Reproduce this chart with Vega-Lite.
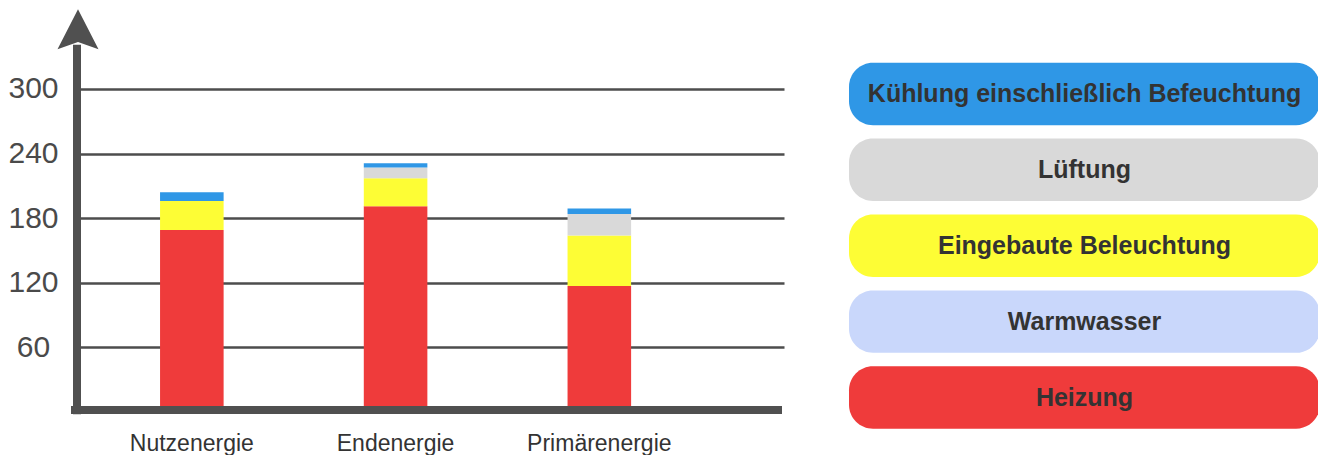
{
  "$schema": "https://vega.github.io/schema/vega-lite/v6.json",
  "padding": {"left": 7, "top": 9, "right": 0, "bottom": 0},
  "background": "white",
  "config": {"view": {"stroke": null}, "font": "Liberation Sans"},
  "datasets": {
    "werte": [
      {"Kategorie": "Nutzenergie", "Anteil": "Heizung", "Nr": 1, "Wert": 169},
      {"Kategorie": "Nutzenergie", "Anteil": "Warmwasser", "Nr": 2, "Wert": 0},
      {"Kategorie": "Nutzenergie", "Anteil": "Eingebaute Beleuchtung", "Nr": 3, "Wert": 27},
      {"Kategorie": "Nutzenergie", "Anteil": "Lüftung", "Nr": 4, "Wert": 0},
      {"Kategorie": "Nutzenergie", "Anteil": "Kühlung einschließlich Befeuchtung", "Nr": 5, "Wert": 8},
      {"Kategorie": "Endenergie", "Anteil": "Heizung", "Nr": 1, "Wert": 191},
      {"Kategorie": "Endenergie", "Anteil": "Warmwasser", "Nr": 2, "Wert": 0},
      {"Kategorie": "Endenergie", "Anteil": "Eingebaute Beleuchtung", "Nr": 3, "Wert": 26},
      {"Kategorie": "Endenergie", "Anteil": "Lüftung", "Nr": 4, "Wert": 10},
      {"Kategorie": "Endenergie", "Anteil": "Kühlung einschließlich Befeuchtung", "Nr": 5, "Wert": 4},
      {"Kategorie": "Primärenergie", "Anteil": "Heizung", "Nr": 1, "Wert": 117},
      {"Kategorie": "Primärenergie", "Anteil": "Warmwasser", "Nr": 2, "Wert": 0},
      {"Kategorie": "Primärenergie", "Anteil": "Eingebaute Beleuchtung", "Nr": 3, "Wert": 47},
      {"Kategorie": "Primärenergie", "Anteil": "Lüftung", "Nr": 4, "Wert": 20},
      {"Kategorie": "Primärenergie", "Anteil": "Kühlung einschließlich Befeuchtung", "Nr": 5, "Wert": 5}
    ],
    "legende": [
      {"Anteil": "Kühlung einschließlich Befeuchtung", "Nr": 5},
      {"Anteil": "Lüftung", "Nr": 4},
      {"Anteil": "Eingebaute Beleuchtung", "Nr": 3},
      {"Anteil": "Warmwasser", "Nr": 2},
      {"Anteil": "Heizung", "Nr": 1}
    ],
    "deko": [{}]
  },
  "hconcat": [
    {
      "width": 707,
      "height": 403,
      "resolve": {"scale": {"x": "independent"}},
      "layer": [
        {
          "data": {"name": "werte"},
          "mark": {"type": "bar"},
          "encoding": {
            "x": {
              "field": "Kategorie", "type": "nominal",
              "sort": ["Nutzenergie", "Endenergie", "Primärenergie"],
              "scale": {"paddingInner": 0.688, "paddingOuter": 0.579, "align": 0.352},
              "axis": {
                "title": null, "domain": false, "ticks": false, "tickSize": 0,
                "labelAngle": 0, "labelFontSize": 23, "labelColor": "#333333",
                "labelBaseline": "alphabetic", "labelPadding": 38,
                "labelFont": "Liberation Sans"
              }
            },
            "y": {
              "field": "Wert", "type": "quantitative", "stack": "zero",
              "scale": {"domain": [0, 374.3], "nice": false, "zero": true},
              "axis": {
                "title": null, "values": [60, 120, 180, 240, 300],
                "grid": true, "gridColor": "#4d4d4d", "gridWidth": 2.5,
                "domain": false, "ticks": false, "tickSize": 0,
                "labelAlign": "center", "labelBaseline": "middle",
                "labelPadding": 44, "labelFontSize": 30, "labelColor": "#4a4a4a",
                "labelFont": "Liberation Sans"
              }
            },
            "color": {
              "field": "Anteil", "type": "nominal", "legend": null,
              "scale": {
                "domain": ["Heizung", "Warmwasser", "Eingebaute Beleuchtung", "Lüftung", "Kühlung einschließlich Befeuchtung"],
                "range": ["#ef3b3b", "#c9d7fb", "#fdfd35", "#d9d9d9", "#2f97e6"]
              }
            },
            "order": {"field": "Nr", "type": "quantitative", "sort": "ascending"}
          }
        },
        {
          "data": {"name": "deko"},
          "mark": {"type": "rule", "strokeWidth": 8, "color": "#505050"},
          "encoding": {
            "x": {"datum": 0, "type": "quantitative", "scale": {"domain": [0, 707], "nice": false, "zero": false}, "axis": null},
            "y": {"datum": -2, "type": "quantitative"},
            "y2": {"datum": 341}
          }
        },
        {
          "data": {"name": "deko"},
          "mark": {"type": "rule", "strokeWidth": 8, "color": "#505050"},
          "encoding": {
            "x": {"datum": -6, "type": "quantitative", "scale": {"domain": [0, 707], "nice": false, "zero": false}, "axis": null},
            "x2": {"datum": 705},
            "y": {"datum": 1.86, "type": "quantitative"}
          }
        },
        {
          "data": {"name": "deko"},
          "mark": {"type": "point", "filled": true, "shape": "M0,-1L1,0.95L0,0.6L-1,0.95Z", "size": 1681, "color": "#505050", "opacity": 1, "strokeWidth": 0},
          "encoding": {
            "x": {"datum": 1, "type": "quantitative", "scale": {"domain": [0, 707], "nice": false, "zero": false}, "axis": null},
            "y": {"datum": 355, "type": "quantitative"}
          }
        }
      ]
    },
    {
      "width": 471,
      "height": 430,
      "data": {"name": "legende"},
      "layer": [
        {
          "mark": {"type": "bar", "cornerRadius": 24},
          "encoding": {
            "y": {
              "field": "Anteil", "type": "nominal",
              "sort": {"field": "Nr", "order": "descending"},
              "scale": {"paddingInner": 0.177, "paddingOuter": 0.421, "align": 0.84},
              "axis": null
            },
            "x": {"datum": 0, "type": "quantitative", "scale": {"domain": [0, 1], "nice": false}, "axis": null},
            "x2": {"datum": 1},
            "color": {"field": "Anteil", "type": "nominal", "legend": null}
          }
        },
        {
          "mark": {"type": "text", "fontSize": 25, "fontWeight": "bold", "color": "#333333", "align": "center", "baseline": "middle", "font": "Liberation Sans"},
          "encoding": {
            "y": {"field": "Anteil", "type": "nominal", "sort": {"field": "Nr", "order": "descending"}},
            "x": {"datum": 0.5, "type": "quantitative"},
            "text": {"field": "Anteil"}
          }
        }
      ]
    }
  ],
  "spacing": 63
}
